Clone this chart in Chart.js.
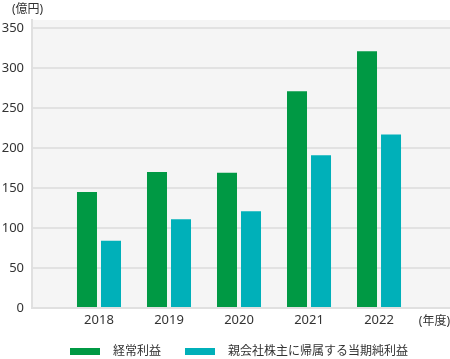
<!DOCTYPE html>
<html>
<head>
<meta charset="utf-8">
<script src="https://cdn.jsdelivr.net/npm/chart.js@4"></script>
<style>
  html, body { margin: 0; padding: 0; background: #fff; }
  #wrap { width: 450px; height: 359px; }
</style>
</head>
<body>
<div id="wrap"><canvas id="myChart"></canvas></div>
<script>
const years = [2018, 2019, 2020, 2021, 2022];
const ordinaryProfit = [145, 170, 169, 271, 321];   // 経常利益
const netProfit = [84, 111, 121, 191, 217];          // 親会社株主に帰属する当期純利益
const seriesNames = ['経常利益', '親会社株主に帰属する当期純利益'];
const yTicks = [0, 50, 100, 150, 200, 250, 300, 350];
const yUnit = '(億円)';
const xUnit = '(年度)';

const FONT = '"Noto Sans", "Noto Sans CJK JP", sans-serif';

function pairs(vals) {
	return years.map((yr, i) => ({ x: yr, y: vals[i] }));
}

// grey plot background, unit labels and the legend row
const extras = {
	id: 'extras',
	beforeDraw(chart) {
		const a = chart.chartArea;
		const ctx = chart.ctx;
		ctx.save();
		ctx.fillStyle = '#f5f5f5';
		ctx.fillRect(a.left, a.top, a.right - a.left, a.bottom - a.top);
		ctx.restore();
	},
	afterDraw(chart) {
		const ctx = chart.ctx;
		const a = chart.chartArea;
		ctx.save();
		ctx.fillStyle = '#333';
		ctx.font = '12px ' + FONT;
		ctx.textBaseline = 'middle';
		ctx.textAlign = 'left';
		ctx.fillText(yUnit, 12, 10);
		ctx.textAlign = 'right';
		ctx.fillText(xUnit, 450, a.bottom + 14);

		// legend
		ctx.textAlign = 'left';
		var x = 70, y = 352;
		chart.data.datasets.forEach(function(ds) {
			ctx.fillStyle = ds.backgroundColor;
			ctx.fillRect(x, y - 4, 30, 7);
			x += 30 + 13;
			ctx.fillStyle = '#333';
			ctx.fillText(ds.label, x, y);
			x += ctx.measureText(ds.label).width + 24;
		});
		ctx.restore();
	}
};

var ctx = document.getElementById('myChart').getContext('2d');
var myChart = new Chart(ctx, {
	type: 'bar',
	data: {
		datasets: [{
			label: seriesNames[0],
			data: pairs(ordinaryProfit),
			backgroundColor: '#009944'
		}, {
			label: seriesNames[1],
			data: pairs(netProfit),
			backgroundColor: '#00b0b9'
		}]
	},
	options: {
		responsive: true,
		maintainAspectRatio: false,
		animation: false,
		categoryPercentage: 0.686,
		barPercentage: 0.833,
		layout: { padding: { top: 20, left: 0, right: 0, bottom: 0 } },
		plugins: {
			tooltip: { enabled: false },
			legend: { display: false }
		},
		scales: {
			x: {
				type: 'linear',
				offset: false,
				min: 2017.043,
				max: 2023.014,
				afterFit(s) { s.height = 51; },
				afterBuildTicks(s) { s.ticks = years.map(v => ({ value: v })); },
				grid: { display: false, drawTicks: false },
				border: { color: '#e0e0e0', width: 2 },
				ticks: {
					color: '#333',
					padding: 4,
					maxRotation: 0,
					callback: v => String(v),
					font: { size: 13, family: FONT }
				}
			},
			y: {
				min: 0,
				max: 360,
				afterFit(s) { s.width = 32; },
				afterBuildTicks(s) { s.ticks = yTicks.map(v => ({ value: v })); },
				grid: { color: '#e2e2e2', lineWidth: 2, drawTicks: false },
				border: { color: '#e0e0e0', width: 2 },
				ticks: {
					color: '#333',
					padding: 8,
					font: { size: 13, family: FONT }
				}
			}
		}
	},
	plugins: [extras]
});
</script>
</body>
</html>
